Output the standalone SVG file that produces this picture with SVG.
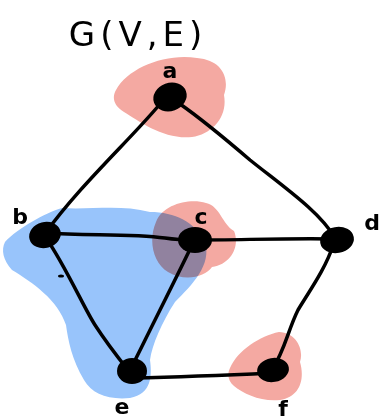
<svg xmlns="http://www.w3.org/2000/svg" width="385" height="420" viewBox="0 0 385 420">
<style>
.edge{fill:none;stroke:#000;stroke-width:3.5;stroke-linecap:round;stroke-linejoin:round}
.node{fill:#000}
.lbl{font-family:"DejaVu Sans",sans-serif;font-size:22px;font-weight:bold;fill:#000}
.title{font-family:"DejaVu Sans",sans-serif;font-size:34px;letter-spacing:5px;fill:#000}
.pink{fill:#f4a9a2;mix-blend-mode:multiply}
.blue{fill:#98c4fb}
</style>
<rect width="385" height="420" fill="#fff"/>
<g id="highlights">
<path class="blue" d="M5,242 C18,228 45,213 62,208 C90,210 120,204 150,212 C175,212 195,222 205,242 C212,265 192,285 175,302 C162,322 152,345 150,360 C152,375 152,394 130,398 C108,400 92,394 84,380 C72,360 68,340 66,325 C58,300 32,282 12,270 C3,260 1,250 5,242 Z"/>
<path class="pink" d="M116,90 C128,68 165,53 197,58 C222,60 230,78 224,95 C228,117 212,134 192,137 C165,140 140,122 124,112 C113,105 112,97 116,90 Z"/>
<path class="pink" d="M156,222 C163,204 190,198 206,203 C220,206 222,224 234,231 C240,245 232,264 212,267 C205,277 185,282 168,272 C153,263 148,240 156,222 Z"/>
<path class="pink" d="M230,368 C238,350 260,336 279,332 C297,333 304,350 300,362 C305,379 300,397 280,400 C261,402 244,394 234,386 C228,381 227,374 230,368 Z"/>
<ellipse cx="61" cy="276" rx="3" ry="1.6" fill="#000"/>
</g>
<g id="connectors">
<path class="edge" d="M160,104 C130,140 80,185 44,235"/>
<path class="edge" d="M180,104 C200,118 215,130 250,160 C285,188 320,212 335,238"/>
<path class="edge" d="M44,233 C90,236 130,233 165,238 C178,240 188,240 195,240"/>
<path class="edge" d="M195,240 C240,240 290,238 337,239"/>
<path class="edge" d="M46,238 C65,265 85,310 95,325 C108,345 120,360 128,370"/>
<path class="edge" d="M193,243 C180,270 165,300 155,320 C145,340 138,355 130,370"/>
<path class="edge" d="M334,243 C325,270 310,290 298,310 C288,330 285,350 272,370"/>
<path class="edge" d="M132,378 C180,377 230,375 272,373"/>
</g>
<g id="node-a"><ellipse class="node" cx="170" cy="97" rx="17" ry="14" transform="rotate(-20 170 97)"/><text class="lbl" x="170" y="78" text-anchor="middle">a</text></g>
<g id="node-b"><ellipse class="node" cx="45" cy="235" rx="16" ry="13" transform="rotate(-15 45 235)"/><text class="lbl" x="20" y="224" text-anchor="middle">b</text></g>
<g id="node-c"><ellipse class="node" cx="195" cy="240" rx="17" ry="13"/><text class="lbl" x="201" y="224" text-anchor="middle">c</text></g>
<g id="node-d"><ellipse class="node" cx="337" cy="240" rx="17" ry="13" transform="rotate(-10 337 240)"/><text class="lbl" x="372" y="230" text-anchor="middle">d</text></g>
<g id="node-e"><ellipse class="node" cx="132" cy="371" rx="15" ry="13"/><text class="lbl" x="122" y="414" text-anchor="middle">e</text></g>
<g id="node-f"><ellipse class="node" cx="273" cy="370" rx="16" ry="12" transform="rotate(-10 273 370)"/><text class="lbl" x="283" y="416" text-anchor="middle">f</text></g>
<text class="title" x="138" y="46" text-anchor="middle">G(V,E)</text>
</svg>
